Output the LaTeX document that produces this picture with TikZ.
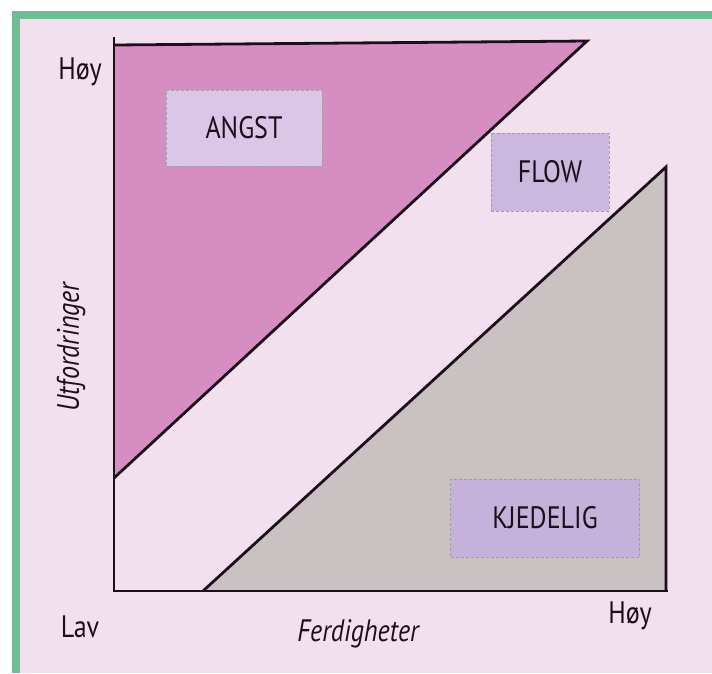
\documentclass[tikz,border=0pt]{standalone}
\usepackage{fontspec}
\setmainfont{PT Sans}[FakeStretch=0.84]
\definecolor{bgpink}{RGB}{243,224,239}
\definecolor{greenb}{RGB}{110,190,148}
\definecolor{pinkfill}{RGB}{214,142,194}
\definecolor{grayfill}{RGB}{202,193,194}
\definecolor{boxA}{RGB}{218,198,230}
\definecolor{boxF}{RGB}{202,184,222}
\definecolor{boxK}{RGB}{196,178,218}
\definecolor{inkc}{RGB}{30,14,28}
\tikzset{
  lbl/.style={font=\fontsize{31}{33}\selectfont, text=inkc, inner sep=0pt},
  ilbl/.style={font=\fontsize{31}{33}\selectfont\itshape, text=inkc, inner sep=0pt},
  statebox/.style={draw=gray!75, densely dashed, line width=0.6pt, inner sep=0pt,
     font=\fontsize{31}{33}\selectfont, text=inkc},
  axisline/.style={draw=inkc, line width=2.8pt, line join=miter},
}
\begin{document}
\begin{tikzpicture}[x=1pt,y=-1pt]
\useasboundingbox (0,0) rectangle (712,673);
\fill[white] (0,0) rectangle (712,673);
\fill[greenb] (12,11) rectangle (712,19);
\fill[greenb] (12,11) rectangle (20,673);
\fill[bgpink] (20,19) rectangle (712,673);
% corner coordinates
\coordinate (ytop) at (114,37);
\coordinate (tl) at (114,45);
\coordinate (pa) at (587,41);
\coordinate (pc) at (114,478);
\coordinate (origin) at (114,591);
\coordinate (gb) at (203,591);
\coordinate (ga) at (666,167);
\coordinate (gr) at (666,591);
\coordinate (xend) at (668,591);
% regions
\fill[pinkfill] (tl) -- (pa) -- (pc) -- cycle;
\fill[grayfill] (gb) -- (ga) -- (gr) -- cycle;
\draw[axisline] (pc) -- (pa) -- (tl);
\draw[axisline] (gb) -- (ga) -- (gr);
\draw[axisline] (ytop) -- (origin) -- (xend);
% boxes
\node[statebox, fill=boxA, minimum width=156pt, minimum height=76pt] (angst) at (244,128) {ANGST};
\node[statebox, fill=boxF, minimum width=118pt, minimum height=78pt] (flow) at (550,172) {FLOW};
\node[statebox, fill=boxK, minimum width=189pt, minimum height=78pt] (kjed) at (545,518) {KJEDELIG};
% axis labels
\node[lbl] (hoyy) at (80,72) {Høy};
\node[lbl] (lav) at (80,627) {Lav};
\node[ilbl] (ferd) at (358,634) {Ferdigheter};
\node[lbl] (hoyx) at (630,616) {Høy};
\node[ilbl, rotate=90] (utf) at (71,347) {Utfordringer};
\end{tikzpicture}
\end{document}
